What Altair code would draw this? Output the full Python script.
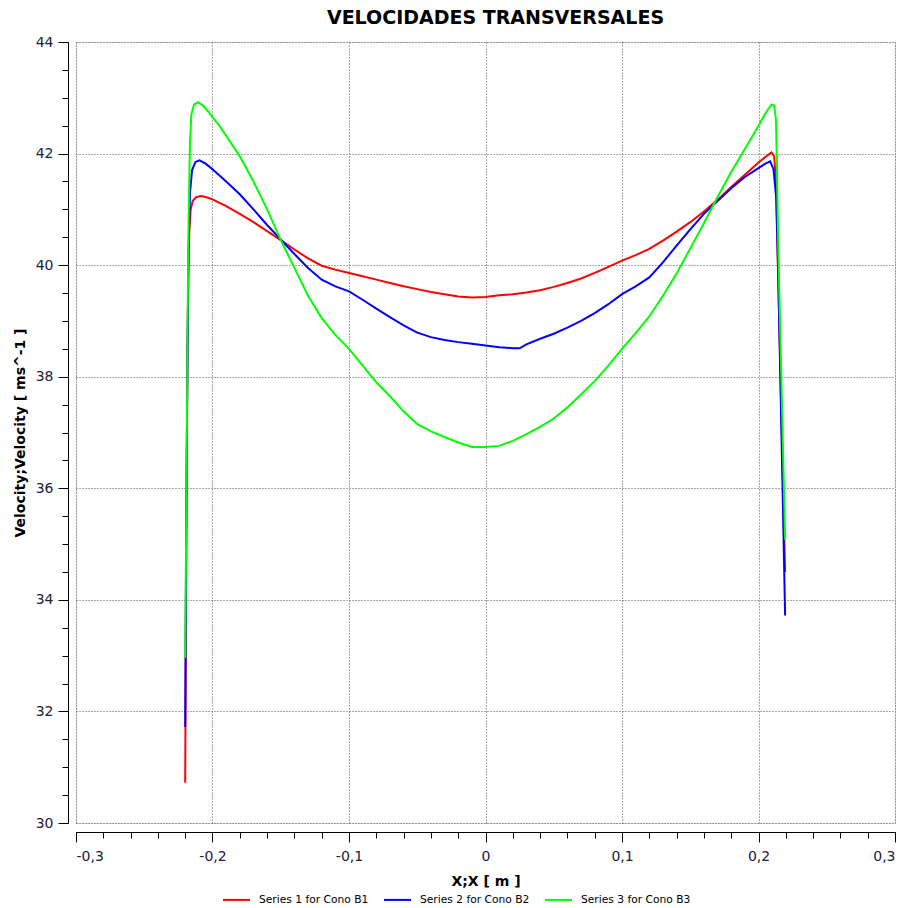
import altair as alt
import pandas as pd

series_names = ["Series 1 for Cono B1", "Series 2 for Cono B2", "Series 3 for Cono B3"]
series_colors = ["#ff0000", "#0000ff", "#00ff00"]

# Series 1 (red)
x1 = [-0.2200, -0.2193, -0.2185, -0.2178, -0.2170, -0.2160, -0.2145, -0.2120, -0.2085, -0.2050,
      -0.200, -0.190, -0.180, -0.170, -0.160, -0.150, -0.140, -0.130, -0.120, -0.110, -0.100,
      -0.090, -0.080, -0.070, -0.060, -0.050, -0.040, -0.030, -0.020, -0.010, 0.000, 0.010,
      0.020, 0.030, 0.040, 0.050, 0.060, 0.070, 0.080, 0.090, 0.100, 0.110, 0.120, 0.130,
      0.140, 0.150, 0.160, 0.170, 0.180, 0.190, 0.200, 0.205, 0.2095, 0.2115, 0.2128, 0.2140,
      0.2195]
y1 = [30.72, 34.5, 37.8, 39.8, 40.6, 41.0, 41.15, 41.22, 41.24, 41.22,
      41.18, 41.06, 40.92, 40.77, 40.61, 40.45, 40.28, 40.12, 39.99, 39.92, 39.86,
      39.80, 39.74, 39.68, 39.62, 39.57, 39.52, 39.48, 39.44, 39.42, 39.43, 39.46,
      39.48, 39.51, 39.55, 39.61, 39.68, 39.76, 39.86, 39.97, 40.08, 40.18, 40.29, 40.44,
      40.60, 40.77, 40.96, 41.17, 41.40, 41.62, 41.84, 41.94, 42.02, 41.95, 41.50, 40.2,
      34.5]

# Series 2 (blue)
x2 = [-0.2200, -0.2192, -0.2183, -0.2175, -0.2165, -0.2150, -0.2125, -0.2095, -0.2050,
      -0.200, -0.190, -0.180, -0.170, -0.160, -0.150, -0.140, -0.130, -0.120, -0.110, -0.100,
      -0.090, -0.080, -0.070, -0.060, -0.050, -0.040, -0.030, -0.020, -0.010, 0.000, 0.010,
      0.020, 0.025, 0.030, 0.040, 0.050, 0.060, 0.070, 0.080, 0.090, 0.100, 0.110, 0.120,
      0.130, 0.140, 0.150, 0.160, 0.170, 0.180, 0.190, 0.200, 0.205, 0.2085, 0.2110, 0.2130,
      0.2145, 0.2195]
y2 = [31.72, 35.5, 38.5, 40.3, 41.3, 41.7, 41.85, 41.88, 41.82,
      41.72, 41.50, 41.27, 41.00, 40.72, 40.46, 40.20, 39.95, 39.74, 39.62, 39.53,
      39.38, 39.22, 39.07, 38.92, 38.79, 38.71, 38.66, 38.62, 38.59, 38.56, 38.53,
      38.51, 38.51, 38.58, 38.68, 38.77, 38.88, 39.00, 39.14, 39.30, 39.48, 39.62, 39.78,
      40.05, 40.35, 40.64, 40.92, 41.15, 41.38, 41.58, 41.74, 41.82, 41.86, 41.72, 41.20,
      39.8, 33.72]

# Series 3 (green)
x3 = [-0.2200, -0.2192, -0.2183, -0.2175, -0.2165, -0.2155, -0.2135, -0.2105, -0.2070,
      -0.2030, -0.200, -0.195, -0.190, -0.180, -0.170, -0.160, -0.150, -0.140, -0.130, -0.120,
      -0.110, -0.100, -0.090, -0.080, -0.070, -0.060, -0.050, -0.040, -0.030, -0.020, -0.010,
      0.000, 0.010, 0.020, 0.030, 0.040, 0.050, 0.060, 0.070, 0.080, 0.090, 0.100, 0.110,
      0.120, 0.130, 0.140, 0.150, 0.160, 0.170, 0.180, 0.190, 0.200, 0.205, 0.2095, 0.2115,
      0.2128, 0.2135, 0.2145, 0.2195]
y3 = [32.96, 35.5, 38.8, 40.8, 42.2, 42.7, 42.88, 42.92, 42.86,
      42.75, 42.65, 42.50, 42.32, 41.95, 41.50, 41.00, 40.45, 39.95, 39.45, 39.05,
      38.75, 38.50, 38.20, 37.90, 37.65, 37.38, 37.15, 37.02, 36.92, 36.82, 36.74,
      36.74, 36.76, 36.85, 36.97, 37.10, 37.25, 37.45, 37.68, 37.92, 38.20, 38.50, 38.78,
      39.08, 39.45, 39.85, 40.30, 40.75, 41.22, 41.67, 42.08, 42.50, 42.72, 42.88, 42.86,
      42.60, 41.80, 40.3, 35.08]

x_major = [-0.3, -0.2, -0.1, 0.0, 0.1, 0.2, 0.3]
x_minor = [round(-0.3 + 0.02 * i, 2) for i in range(31)]
y_major = [30, 32, 34, 36, 38, 40, 42, 44]
y_minor = [30 + 0.5 * i for i in range(29)]

rows = []
for name, xs, ys in zip(series_names, [x1, x2, x3], [y1, y2, y3]):
    for i, (xv, yv) in enumerate(zip(xs, ys)):
        rows.append({"series": name, "x": xv, "y": yv, "order": i})
df = pd.DataFrame(rows)

FONT = "DejaVu Sans"
LABEL_COLOR = "#20203a"
xscale = alt.Scale(domain=[-0.3, 0.3], nice=False, zero=False)
yscale = alt.Scale(domain=[30, 44], nice=False, zero=False)

lines = alt.Chart(df).mark_line(strokeWidth=2, clip=True).encode(
    x=alt.X("x:Q", scale=xscale, axis=alt.Axis(
        values=x_major, title="X;X [ m ]", orient="bottom", offset=9,
        tickSize=10, tickColor="#000", domainColor="#000", labelPadding=7,
        labelExpr="datum.value == 0 ? '0' : replace(toString(round(datum.value*10)/10), '.', ',')",
        labelFontSize=14, labelFont=FONT, labelColor=LABEL_COLOR,
        titleFontSize=14, titleFont=FONT, titleFontWeight="bold", titleColor="#000",
        titlePadding=11, grid=True, gridDash=[1, 2], gridColor="#555", gridOpacity=1)),
    y=alt.Y("y:Q", scale=yscale, axis=alt.Axis(
        values=y_major, title="Velocity;Velocity [ ms^-1 ]", orient="left", offset=8,
        tickSize=10, tickColor="#000", domainColor="#000", labelPadding=5,
        labelFontSize=14, labelFont=FONT, labelColor=LABEL_COLOR,
        titleFontSize=14, titleFont=FONT, titleFontWeight="bold", titleColor="#000",
        titlePadding=8, grid=True, gridDash=[1, 2], gridColor="#555", gridOpacity=1)),
    color=alt.Color("series:N", scale=alt.Scale(domain=series_names, range=series_colors),
                    legend=alt.Legend(title=None, orient="none", direction="horizontal",
                                      legendX=146, legendY=843, symbolType="stroke",
                                      symbolStrokeWidth=2, symbolSize=729,
                                      labelFontSize=10.7, labelFont=FONT, labelColor="#000",
                                      labelOffset=8, columnPadding=11)),
    order="order:Q",
)

minor = alt.Chart(df).mark_point(opacity=0).encode(
    x=alt.X("x:Q", scale=xscale, axis=alt.Axis(
        values=x_minor, orient="bottom", offset=9, labels=False, title=None,
        tickSize=6, tickColor="#000", domain=False, grid=False)),
    y=alt.Y("y:Q", scale=yscale, axis=alt.Axis(
        values=y_minor, orient="left", offset=8, labels=False, title=None,
        tickSize=6, tickColor="#000", domain=False, grid=False)),
)

chart = alt.layer(minor, lines).resolve_axis(x="independent", y="independent").properties(
    width=819, height=781,
    title=alt.TitleParams("VELOCIDADES TRANSVERSALES", fontSize=19, font=FONT,
                          fontWeight="bold", anchor="middle", offset=7, dx=10, color="#000"),
    autosize=alt.AutoSizeParams(type="none"),
    padding={"left": 76, "top": 42, "right": 14, "bottom": 85},
).configure_view(stroke=None).configure(background="white")

chart.save("out.html", embed_options={"renderer": "svg", "actions": False})
